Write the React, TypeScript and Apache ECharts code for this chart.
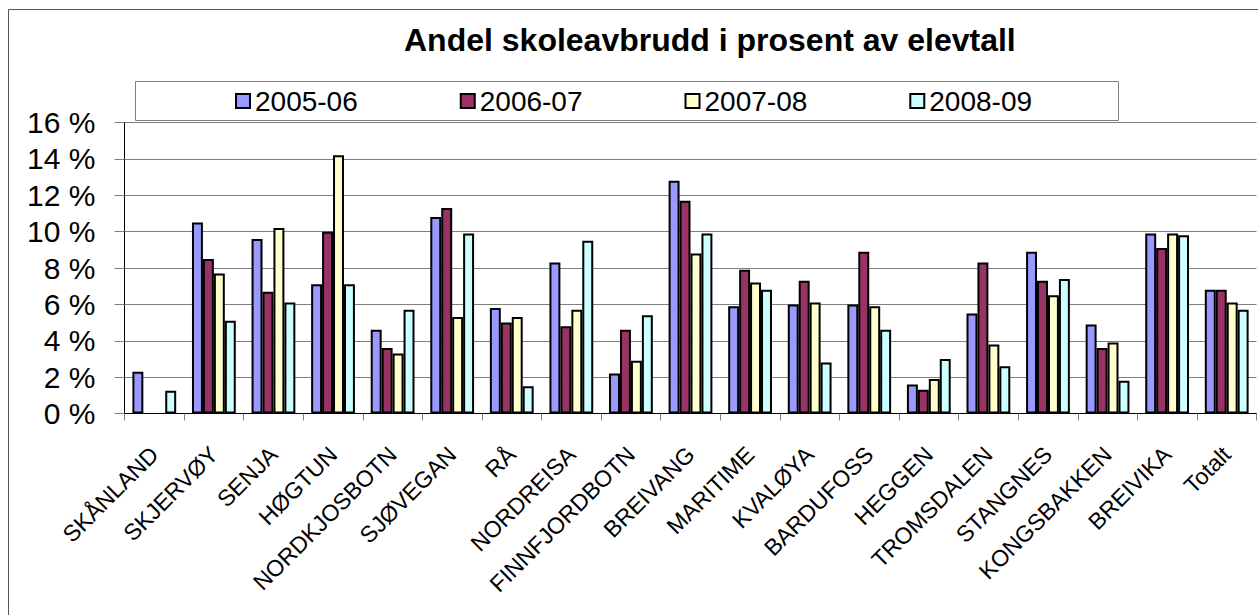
import React, { useEffect, useRef } from "react";
import * as echarts from "echarts";

const TITLE = "Andel skoleavbrudd i prosent av elevtall";

const categories = [
  "SKÅNLAND", "SKJERVØY", "SENJA", "HØGTUN", "NORDKJOSBOTN", "SJØVEGAN", "RÅ",
  "NORDREISA", "FINNFJORDBOTN", "BREIVANG", "MARITIME", "KVALØYA", "BARDUFOSS",
  "HEGGEN", "TROMSDALEN", "STANGNES", "KONGSBAKKEN", "BREIVIKA", "Totalt",
];

const seriesNames = ["2005-06", "2006-07", "2007-08", "2008-09"];

const values2005 = [2.3, 10.5, 9.6, 7.1, 4.6, 10.8, 5.8, 8.3, 2.2, 12.8, 5.9, 6.0, 6.0, 1.6, 5.5, 8.9, 4.9, 9.9, 6.8];
const values2006 = [null, 8.5, 6.7, 10.0, 3.6, 11.3, 5.0, 4.8, 4.6, 11.7, 7.9, 7.3, 8.9, 1.3, 8.3, 7.3, 3.6, 9.1, 6.8];
const values2007 = [null, 7.7, 10.2, 14.2, 3.3, 5.3, 5.3, 5.7, 2.9, 8.8, 7.2, 6.1, 5.9, 1.9, 3.8, 6.5, 3.9, 9.9, 6.1];
const values2008 = [1.25, 5.1, 6.1, 7.1, 5.7, 9.9, 1.5, 9.5, 5.4, 9.9, 6.8, 2.8, 4.6, 3.0, 2.6, 7.4, 1.8, 9.8, 5.7];

const yTicks = [0, 2, 4, 6, 8, 10, 12, 14, 16];

const colors = ["#9999FF", "#993366", "#FFFFCC", "#CCFFFF"];
const FONT = "'Liberation Sans', Arial, sans-serif";

export default function App() {
  const ref = useRef<HTMLDivElement>(null);

  useEffect(() => {
    if (!ref.current) return;
    const chart = echarts.init(ref.current, null, { renderer: "svg" });
    const allValues = [values2005, values2006, values2007, values2008];
    const option = {
      animation: false,
      backgroundColor: "#ffffff",
      title: {
        text: TITLE,
        left: 404,
        top: 24,
        padding: 0,
        textStyle: {
          fontFamily: FONT,
          fontSize: 32,
          fontWeight: "bold",
          color: "#000",
          lineHeight: 32,
        },
      },
      legend: {
        data: seriesNames,
        left: 235,
        top: 86,
        padding: 0,
        itemWidth: 14,
        itemHeight: 14,
        itemGap: 102,
        icon: "rect",
        selectedMode: false,
        itemStyle: { borderColor: "#000", borderWidth: 2 },
        textStyle: { fontFamily: FONT, fontSize: 28, lineHeight: 30, color: "#000" },
      },
      grid: { left: 124.5, right: 1.5, top: 122.5, bottom: 201.5 },
      xAxis: {
        type: "category",
        data: categories,
        axisLine: { show: true, lineStyle: { color: "#000", width: 1 } },
        axisTick: { show: true, length: 7, interval: 0, lineStyle: { color: "#808080" } },
        axisLabel: {
          rotate: 45,
          interval: 0,
          margin: 37,
          fontSize: 23,
          fontFamily: FONT,
          color: "#000",
        },
        splitLine: { show: false },
      },
      yAxis: {
        type: "value",
        min: yTicks[0],
        max: yTicks[yTicks.length - 1],
        interval: 2,
        axisLine: { show: true, lineStyle: { color: "#000", width: 1 } },
        axisTick: { show: true, length: 10, lineStyle: { color: "#808080" } },
        axisLabel: {
          formatter: (v: number) => `${v} %`,
          fontSize: 30,
          margin: 29,
          fontFamily: FONT,
          color: "#000",
        },
        splitLine: { show: true, lineStyle: { color: "#808080", width: 1 } },
      },
      series: seriesNames.map((name, i) => ({
        name,
        type: "bar",
        data: allValues[i],
        barGap: "0%",
        barCategoryGap: "26.5%",
        itemStyle: { color: colors[i], borderColor: "#000", borderWidth: 2 },
        emphasis: { disabled: true },
      })),
      graphic: [
        {
          type: "rect",
          silent: true,
          shape: { x: 135.5, y: 81.5, width: 983, height: 39 },
          style: { fill: "none", stroke: "#808080", lineWidth: 1 },
        },
        {
          type: "rect",
          silent: true,
          shape: { x: 8.5, y: 9.5, width: 1300, height: 700 },
          style: { fill: "none", stroke: "#555", lineWidth: 1 },
        },
      ],
    };
    chart.setOption(option as any);
    return () => chart.dispose();
  }, []);

  return (
    <div
      ref={ref}
      style={{ position: "absolute", left: 0, top: 0, width: 1258, height: 615, background: "#fff" }}
    />
  );
}
